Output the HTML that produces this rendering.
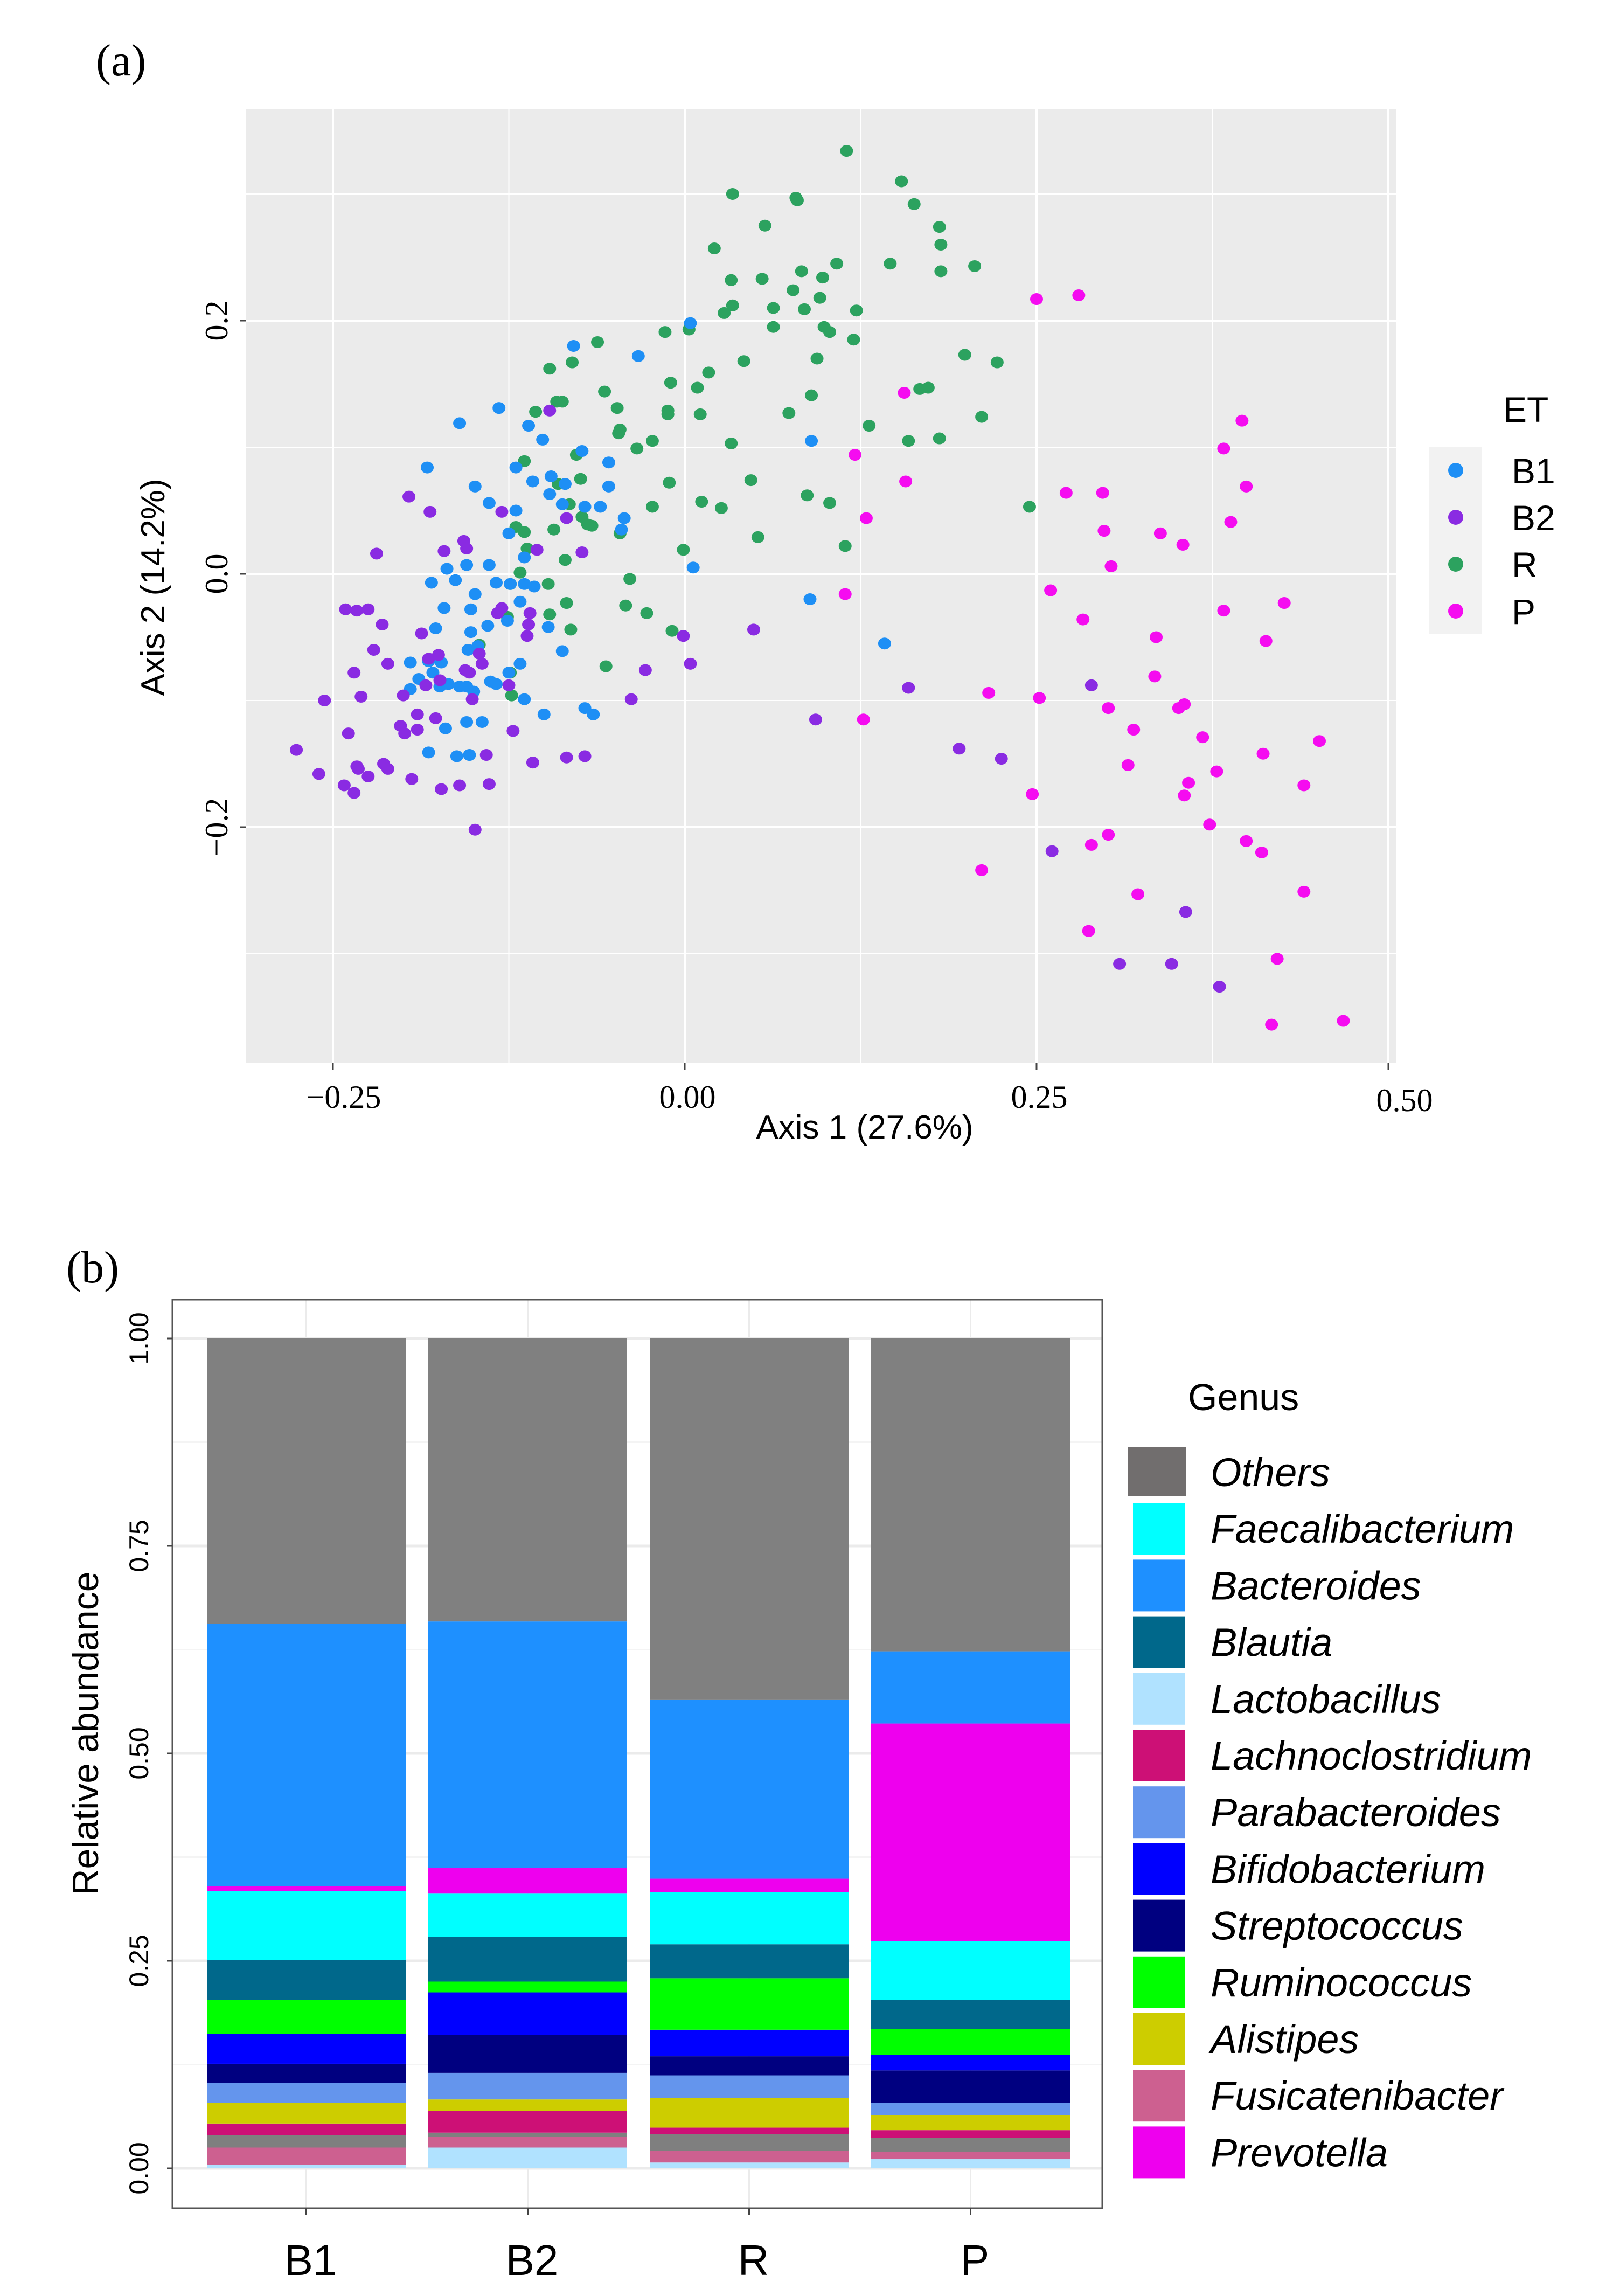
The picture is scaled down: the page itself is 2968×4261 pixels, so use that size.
<!DOCTYPE html>
<html><head><meta charset="utf-8">
<style>
html,body{margin:0;padding:0;background:#fff;}
svg{display:block;}
text{font-family:"Liberation Sans",sans-serif;}
.serif{font-family:"Liberation Serif",serif;}
.narrow{font-family:"Liberation Sans Narrow","Liberation Sans",sans-serif;}
</style></head>
<body>
<svg id="fig" width="2968" height="4261" viewBox="0 0 2968 4261" xmlns="http://www.w3.org/2000/svg">
  <text x="178" y="140" class="serif" font-size="84">(a)</text>
  <g id="pa"></g>
  <text x="123" y="2380" class="serif" font-size="84">(b)</text>
  <g id="pb"></g>
</svg>
<script>
// ===== Panel (a) data =====
const groupNames = ["B1","B2","R","P"];
const xTicks = [-0.25, 0.00, 0.25, 0.50];
const xTickLabels = ["\u22120.25","0.00","0.25","0.50"];
const yTicks = [-0.2, 0.0, 0.2];
const yTickLabels = ["\u22120.2","0.0","0.2"];
const rX = [0.115,0.154,0.163,0.034,0.079,0.080,0.057,0.181,0.182,0.021,0.108,0.146,0.182,0.206,0.083,0.098,0.033,0.055,0.077,0.096,0.085,0.063,0.034,0.028,0.122,0.099,0.103,0.063,0.003,-0.014,0.120,-0.062,0.199,0.222,0.094,0.042,-0.080,-0.096,0.017,-0.010,0.009,0.090,-0.057,-0.087,-0.091,-0.048,-0.106,-0.012,-0.012,0.074,0.211,0.011,0.131,-0.046,-0.047,-0.023,0.033,0.159,0.181,-0.077,-0.034,-0.114,0.087,0.103,-0.011,-0.074,-0.090,0.047,0.012,0.026,0.245,-0.023,-0.082,-0.073,-0.066,-0.120,-0.114,-0.093,-0.069,-0.112,-0.046,0.052,-0.001,0.114,-0.085,-0.117,-0.039,-0.124,-0.097,-0.084,-0.042,-0.027,-0.126,-0.009,-0.081,-0.096,-0.056,-0.124,-0.146,-0.123,0.167,0.173];
const rY = [0.334,0.310,0.292,0.300,0.297,0.295,0.275,0.274,0.260,0.257,0.245,0.245,0.239,0.243,0.239,0.234,0.232,0.233,0.224,0.218,0.209,0.210,0.212,0.206,0.208,0.195,0.191,0.195,0.193,0.191,0.185,0.183,0.173,0.167,0.170,0.168,0.167,0.162,0.159,0.151,0.147,0.141,0.144,0.136,0.136,0.131,0.128,0.129,0.126,0.127,0.124,0.126,0.117,0.114,0.111,0.105,0.103,0.105,0.107,0.094,0.099,0.089,0.062,0.056,0.072,0.075,0.071,0.074,0.057,0.052,0.053,0.053,0.055,0.045,0.038,0.037,0.033,0.035,0.039,0.020,0.032,0.029,0.019,0.022,0.011,0.001,-0.004,-0.008,-0.008,-0.023,-0.025,-0.031,-0.034,-0.045,-0.044,-0.032,-0.073,-0.078,-0.056,-0.096,0.146,0.147];
const b1X = [0.004,-0.079,-0.033,-0.132,-0.160,-0.111,-0.101,-0.073,-0.183,-0.120,-0.054,-0.108,-0.095,-0.085,-0.149,-0.054,-0.096,-0.139,-0.087,-0.060,-0.120,-0.071,-0.043,-0.045,-0.125,-0.114,-0.169,-0.155,-0.139,0.006,-0.180,-0.163,-0.134,-0.124,-0.114,-0.107,-0.149,-0.117,-0.171,-0.152,-0.140,-0.097,-0.152,-0.177,-0.126,-0.087,-0.154,-0.147,-0.195,-0.182,-0.173,-0.189,-0.179,-0.174,-0.168,-0.160,-0.155,-0.150,-0.117,-0.138,-0.134,-0.195,-0.125,-0.114,-0.155,-0.144,-0.071,-0.065,-0.100,-0.170,-0.182,-0.162,-0.153,0.090,0.089,0.142];
const b1Y = [0.198,0.180,0.172,0.131,0.119,0.117,0.106,0.097,0.084,0.084,0.088,0.073,0.077,0.071,0.069,0.069,0.063,0.056,0.055,0.053,0.050,0.053,0.044,0.035,0.032,0.013,0.004,0.007,0.007,0.005,-0.007,-0.005,-0.007,-0.008,-0.008,-0.010,-0.016,-0.022,-0.027,-0.028,-0.041,-0.042,-0.046,-0.043,-0.037,-0.061,-0.060,-0.057,-0.070,-0.069,-0.070,-0.083,-0.078,-0.089,-0.087,-0.089,-0.089,-0.093,-0.071,-0.085,-0.087,-0.091,-0.078,-0.099,-0.117,-0.117,-0.106,-0.111,-0.111,-0.122,-0.141,-0.144,-0.143,0.105,-0.020,-0.055];
const b2X = [-0.196,-0.181,-0.219,-0.157,-0.155,-0.171,-0.105,-0.084,-0.073,-0.096,-0.130,-0.111,-0.112,-0.130,-0.110,-0.133,-0.241,-0.233,-0.225,-0.215,-0.187,-0.221,-0.175,-0.211,-0.156,-0.235,-0.144,-0.153,-0.182,-0.184,-0.200,-0.230,-0.256,-0.028,-0.038,-0.125,-0.001,0.004,0.049,0.159,0.093,-0.190,-0.202,-0.190,-0.177,-0.199,-0.239,-0.122,-0.151,-0.276,-0.260,-0.233,-0.232,-0.214,-0.211,-0.225,-0.242,-0.235,-0.194,-0.173,-0.160,-0.139,-0.108,-0.141,-0.084,-0.071,-0.149,0.195,0.225,0.289,0.261,0.356,0.309,0.346,0.380,-0.174,-0.146];
const b2Y = [0.061,0.049,0.016,0.026,0.020,0.018,0.019,0.044,0.017,0.129,0.049,-0.040,-0.049,-0.027,-0.031,-0.031,-0.028,-0.029,-0.028,-0.040,-0.047,-0.060,-0.064,-0.071,-0.076,-0.078,-0.071,-0.078,-0.067,-0.088,-0.096,-0.097,-0.100,-0.076,-0.099,-0.088,-0.049,-0.071,-0.044,-0.090,-0.115,-0.111,-0.120,-0.123,-0.114,-0.126,-0.126,-0.124,-0.099,-0.139,-0.158,-0.152,-0.154,-0.150,-0.154,-0.160,-0.167,-0.173,-0.162,-0.170,-0.167,-0.166,-0.149,-0.143,-0.145,-0.144,-0.202,-0.138,-0.146,-0.088,-0.219,-0.267,-0.308,-0.308,-0.326,-0.084,-0.063];
const pX = [0.250,0.280,0.156,0.121,0.157,0.129,0.396,0.383,0.399,0.388,0.271,0.297,0.298,0.338,0.354,0.303,0.260,0.114,0.383,0.426,0.283,0.335,0.413,0.334,0.216,0.252,0.301,0.351,0.355,0.319,0.368,0.451,0.315,0.411,0.378,0.358,0.355,0.440,0.247,0.127,0.373,0.289,0.301,0.399,0.410,0.211,0.322,0.440,0.287,0.421,0.417,0.468];
const pY = [0.217,0.220,0.143,0.094,0.073,0.044,0.121,0.099,0.069,0.041,0.064,0.064,0.034,0.032,0.023,0.006,-0.013,-0.016,-0.029,-0.023,-0.036,-0.050,-0.053,-0.081,-0.094,-0.098,-0.106,-0.106,-0.103,-0.123,-0.129,-0.132,-0.151,-0.142,-0.156,-0.165,-0.175,-0.167,-0.174,-0.115,-0.198,-0.214,-0.206,-0.211,-0.220,-0.234,-0.253,-0.251,-0.282,-0.304,-0.356,-0.353];
const groupColors = ["#1e8ff5","#8a2be2","#2ca25f","#f50cf0"];

// ===== Panel (b) data =====
const barCategories = ["B1","B2","R","P"];
const barYTicks = [0, 0.25, 0.5, 0.75, 1.0];
const barYTickLabels = ["0.00","0.25","0.50","0.75","1.00"];
const lactobacillus    = [0.004,0.025,0.007,0.011];
const fusicatenibacter = [0.021,0.013,0.014,0.009];
const minorGrey        = [0.015,0.005,0.020,0.017];
const lachnoclostridium= [0.014,0.026,0.008,0.009];
const alistipes        = [0.025,0.014,0.036,0.018];
const parabacteroides  = [0.024,0.032,0.027,0.015];
const streptococcus    = [0.023,0.046,0.023,0.039];
const bifidobacterium  = [0.036,0.051,0.032,0.019];
const ruminococcus     = [0.041,0.013,0.062,0.031];
const blautia          = [0.048,0.054,0.041,0.035];
const faecalibacterium = [0.083,0.052,0.063,0.071];
const prevotella       = [0.006,0.031,0.016,0.262];
const bacteroides      = [0.316,0.297,0.216,0.087];
const others           = [0.344,0.341,0.435,0.377];
const legendNames = ["Others","Faecalibacterium","Bacteroides","Blautia","Lactobacillus","Lachnoclostridium","Parabacteroides","Bifidobacterium","Streptococcus","Ruminococcus","Alistipes","Fusicatenibacter","Prevotella"];

const NS = "http://www.w3.org/2000/svg";
function mk(tag, attrs, parent){ const e=document.createElementNS(NS,tag); for(const k in attrs) e.setAttribute(k,attrs[k]); parent.appendChild(e); return e; }

// ---------- Panel A ----------
(function(){
  const g = document.getElementById('pa');
  const L=457,R=2592,T=202,B=1973;
  const sx = v => 1271 + v*2612;
  const sy = v => 1065 - v*2350;
  const bg = mk('rect',{x:L,y:T,width:R-L,height:B-T,fill:'#ebebeb'},g);
  
  
  for(let v=-0.375; v<=0.6; v+=0.125){
    const px=sx(v); if(px<L||px>R) continue;
    const major = Math.abs((v/0.25)-Math.round(v/0.25))<1e-6;
    const l = mk('line',{x1:px,x2:px,y1:T,y2:B,stroke:'#fff','stroke-width':major?4:2},g);
    
    
  }
  for(let v=-0.3; v<=0.35; v+=0.1){
    const py=sy(v); if(py<T||py>B) continue;
    const major = Math.abs((v/0.2)-Math.round(v/0.2))<1e-6;
    const l = mk('line',{x1:L,x2:R,y1:py,y2:py,stroke:'#fff','stroke-width':major?4:2},g);
    
    
  }
  const series = [[b1X,b1Y],[b2X,b2Y],[rX,rY],[pX,pY]];
  const order=[2,0,1,3];
  order.forEach(gi=>{
    const [xs,ys]=series[gi];
    for(let i=0;i<xs.length;i++){
      const c = mk('ellipse',{cx:sx(xs[i]),cy:sy(ys[i]),rx:12,ry:11,fill:groupColors[gi]},g);
      
      
    }
  });
  xTicks.forEach((v,i)=>{
    const t = mk('line',{x1:sx(v),x2:sx(v),y1:B,y2:B+12,stroke:'#444','stroke-width':3},g);
    
    
    const tx = mk('text',{x:sx(v)+ (i==3?30:i==0?20:5),y:i==3?2062:2056,'font-size':60,'text-anchor':'middle',class:'serif'},g);
    tx.textContent=xTickLabels[i];
    
    
  });
  yTicks.forEach((v,i)=>{
    const t = mk('line',{x1:L-12,x2:L,y1:sy(v),y2:sy(v),stroke:'#444','stroke-width':3},g);
    
    
    const tx = mk('text',{x:0,y:0,'font-size':60,'text-anchor':'middle',class:'serif',transform:`translate(422,${sy(v)}) rotate(-90)`},g);
    tx.textContent=yTickLabels[i];
    
    
  });
  const xt = mk('text',{x:1605,y:2113,'font-size':62,'text-anchor':'middle',class:'narrow'},g);
  xt.textContent='Axis 1 (27.6%)';
  
  
  const yt = mk('text',{x:0,y:0,'font-size':62,'text-anchor':'middle',transform:'translate(305,1090) rotate(-90)'},g);
  yt.textContent='Axis 2 (14.2%)';
  
  
  const lt = mk('text',{x:2790,y:783,'font-size':66},g);
  lt.textContent='ET';
  
  
  const lb = mk('rect',{x:2652,y:830,width:99,height:347,fill:'#f2f2f2'},g);
  
  
  groupNames.forEach((n,i)=>{
    const cy=873+i*87;
    const c = mk('circle',{cx:2702,cy:cy,r:14,fill:groupColors[i]},g);
    
    
    const t = mk('text',{x:2806,y:cy+24,'font-size':66},g);
    t.textContent=n;
    
    
  });
})();

// ---------- Panel B ----------
(function(){
  const g = document.getElementById('pb');
  const L=320,R=2046,T=2412,B=4098;
  const y0=4024, perUnit=1540;
  const sy = v => y0 - v*perUnit;
  const bx = i => 384 + i*411;
  const bw = 369;
  const bg = mk('rect',{x:L,y:T,width:R-L,height:B-T,fill:'#fff'},g);
  
  
  for(let v=0; v<=1.0001; v+=0.125){
    const major = Math.abs((v/0.25)-Math.round(v/0.25))<1e-6;
    const l = mk('line',{x1:L,x2:R,y1:sy(v),y2:sy(v),stroke:major?'#ebebeb':'#f4f4f4','stroke-width':major?5:3},g);
    
    
  }
  barCategories.forEach((c,i)=>{
    const l = mk('line',{x1:bx(i)+bw/2,x2:bx(i)+bw/2,y1:T,y2:B,stroke:'#ebebeb','stroke-width':3},g);
    
    
  });
  const stack = [
    ['lactobacillus',lactobacillus,'#b0e2ff'],
    ['fusicatenibacter',fusicatenibacter,'#cd6090'],
    ['minor-genera',minorGrey,'#7f7f7f'],
    ['lachnoclostridium',lachnoclostridium,'#cd1076'],
    ['alistipes',alistipes,'#cdcd00'],
    ['parabacteroides',parabacteroides,'#6495ed'],
    ['streptococcus',streptococcus,'#000080'],
    ['bifidobacterium',bifidobacterium,'#0000ff'],
    ['ruminococcus',ruminococcus,'#00ff00'],
    ['blautia',blautia,'#00688b'],
    ['faecalibacterium',faecalibacterium,'#00ffff'],
    ['prevotella',prevotella,'#ee00ee'],
    ['bacteroides',bacteroides,'#1e90ff'],
    ['others',others,'#808080']
  ];
  barCategories.forEach((c,i)=>{
    let cum=0;
    stack.forEach(([name,vals,col])=>{
      const v=vals[i];
      const r = mk('rect',{x:bx(i),y:sy(cum+v),width:bw,height:v*perUnit,fill:col},g);
      
      
      cum+=v;
    });
  });
  const bd = mk('rect',{x:L,y:T,width:R-L,height:B-T,fill:'none',stroke:'#555','stroke-width':3},g);
  
  
  barYTicks.forEach((v,i)=>{
    const t = mk('line',{x1:L-10,x2:L,y1:sy(v),y2:sy(v),stroke:'#444','stroke-width':3},g);
    
    
    const tx = mk('text',{x:0,y:0,'font-size':50,'text-anchor':'middle',transform:`translate(275,${sy(v)}) rotate(-90)`},g);
    tx.textContent=barYTickLabels[i];
    
    
  });
  barCategories.forEach((c,i)=>{
    const cx=bx(i)+bw/2;
    const t = mk('line',{x1:cx,x2:cx,y1:B,y2:B+12,stroke:'#444','stroke-width':3},g);
    
    
    const tx = mk('text',{x:cx+8,y:4222,'font-size':80,'text-anchor':'middle',class:'narrow'},g);
    tx.textContent=c;
    
    
  });
  const yt = mk('text',{x:0,y:0,'font-size':68,'text-anchor':'middle',transform:'translate(182,3217) rotate(-90)'},g);
  yt.textContent='Relative abundance';
  
  
  const lt = mk('text',{x:2205,y:2617,'font-size':70,class:'narrow'},g);
  lt.textContent='Genus';
  
  
  const keyCols = ['#716e6e','#00ffff','#1e90ff','#00688b','#b0e2ff','#cd1076','#6495ed','#0000ff','#000080','#00ff00','#cdcd00','#cd6090','#ee00ee'];
  legendNames.forEach((n,i)=>{
    const cy=2732+i*105.2;
    const first = i===0;
    const k = mk('rect',{x:first?2094:2103,y:cy-(first?46:48),width:first?108:96,height:first?90:96,fill:keyCols[i]},g);
    
    
    const t = mk('text',{x:2247,y:cy+26,'font-size':74,'font-style':'italic',class:'narrow'},g);
    t.textContent=n;
    
    
  });
})();
</script>
</body></html>
